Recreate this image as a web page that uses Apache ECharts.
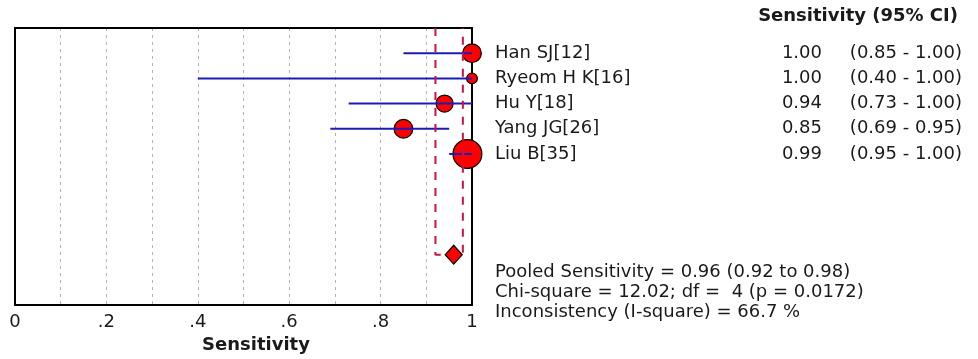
<!DOCTYPE html>
<html>
<head>
<meta charset="utf-8">
<script src="https://cdn.jsdelivr.net/npm/echarts@6/dist/echarts.min.js"></script>
<style>
html,body{margin:0;padding:0;background:#fff;}
#chart{width:978px;height:359px;}
</style>
</head>
<body>
<div id="chart"></div>
<script>
// ---- data ----
const studies = ['Han SJ[12]', 'Ryeom H K[16]', 'Hu Y[18]', 'Yang JG[26]', 'Liu B[35]'];
const sens    = [1.00, 1.00, 0.94, 0.85, 0.99];
const ciLow   = [0.85, 0.40, 0.73, 0.69, 0.95];
const ciHigh  = [1.00, 1.00, 1.00, 0.95, 1.00];
const weights = [18, 6, 15, 18, 43];           // relative study weights (%)
const pooled  = 0.96;
const pooledLow = 0.92;
const pooledHigh = 0.98;
const xTickValues = [0, 0.2, 0.4, 0.6, 0.8, 1];
const xTickLabels = ['0', '.2', '.4', '.6', '.8', '1'];
const headerText = 'Sensitivity (95% CI)';
const axisTitle = 'Sensitivity';
const footLines = [
  'Pooled Sensitivity = 0.96 (0.92 to 0.98)',
  'Chi-square = 12.02; df =  4 (p = 0.0172)',
  'Inconsistency (I-square) = 66.7 %'
];
const pooledRow = 8;

// ---- chart ----
const FONT = 'DejaVu Sans';
const TXT = '#1a1a1a';
const chart = echarts.init(document.getElementById('chart'), null, {renderer: 'canvas'});

const blackLine = {show: true, onZero: false, lineStyle: {color: '#000', width: 2}};

const option = {
  animation: false,
  backgroundColor: '#fff',
  grid: {left: 15, right: 506, top: 28, bottom: 53, containLabel: false},
  xAxis: [
    {
      type: 'value', min: 0, max: 1, interval: 0.1, position: 'bottom', z: 0,
      axisLine: blackLine,
      axisTick: {show: false},
      splitLine: {show: true, lineStyle: {color: '#b4b4b4', width: 1, type: [3, 4]}},
      axisLabel: {
        margin: 8, fontFamily: FONT, fontSize: 18, color: TXT,
        formatter: function (v) {
          const i = xTickValues.findIndex(t => Math.abs(t - v) < 1e-6);
          return i >= 0 ? xTickLabels[i] : '';
        }
      },
      name: axisTitle, nameLocation: 'middle', nameGap: 30,
      nameTextStyle: {fontFamily: FONT, fontSize: 18, fontWeight: 'bold', color: TXT, padding: [0, 0, 0, 25]}
    },
    {
      type: 'value', min: 0, max: 1, position: 'top', z: 3,
      axisLine: blackLine, axisTick: {show: false}, axisLabel: {show: false}, splitLine: {show: false}
    }
  ],
  yAxis: [
    {
      type: 'value', inverse: true, min: -1, max: 10, position: 'left', z: 3,
      axisLine: blackLine, axisTick: {show: false}, axisLabel: {show: false}, splitLine: {show: false}
    },
    {
      type: 'value', inverse: true, min: -1, max: 10, position: 'right', z: 3,
      axisLine: blackLine, axisTick: {show: false}, axisLabel: {show: false}, splitLine: {show: false}
    }
  ],
  series: [
    // study point estimates (size ~ weight)
    {
      type: 'scatter', z: 4, clip: false, symbol: 'circle',
      data: sens.map((v, i) => [v, i, weights[i]]),
      symbolSize: d => 4.4 * Math.sqrt(d[2]),
      itemStyle: {color: '#ff0000', borderColor: '#000', borderWidth: 1.2, opacity: 1}
    },
    // confidence intervals
    {
      type: 'custom', z: 5, clip: false,
      data: studies.map((s, i) => [ciLow[i], ciHigh[i], i]),
      encode: {x: [0, 1], y: 2},
      renderItem: function (params, api) {
        const a = api.coord([api.value(0), api.value(2)]);
        const b = api.coord([api.value(1), api.value(2)]);
        return {type: 'line', shape: {x1: a[0], y1: a[1], x2: b[0], y2: b[1]},
                style: {stroke: '#1c1cb4', lineWidth: 2}};
      }
    },
    // pooled CI bracket
    {
      type: 'line', z: 6, symbol: 'none', clip: false,
      data: [[pooledLow, -1], [pooledLow, pooledRow], [pooledHigh, pooledRow], [pooledHigh, -1]],
      lineStyle: {color: '#cc1440', width: 2, type: [8, 8]}
    },
    // pooled diamond
    {
      type: 'scatter', z: 7, clip: false, symbol: 'diamond', symbolSize: [17, 19],
      data: [[pooled, pooledRow]],
      itemStyle: {color: '#ff0000', borderColor: '#000', borderWidth: 1.2, opacity: 1}
    },
    // study labels and numeric columns
    {
      type: 'scatter', z: 8, clip: false, symbolSize: 0, silent: true,
      itemStyle: {color: '#000', opacity: 1},
      data: studies.map((s, i) => [1, i]),
      label: {
        show: true, position: 'right', distance: 23,
        fontFamily: FONT, fontSize: 18, color: TXT, opacity: 1,
        formatter: function (p) {
          const i = p.dataIndex;
          return '{n|' + studies[i] + '}{v|' + sens[i].toFixed(2) + '}{c|(' +
            ciLow[i].toFixed(2) + ' - ' + ciHigh[i].toFixed(2) + ')}';
        },
        rich: {
          n: {width: 284, align: 'left', fontFamily: FONT, fontSize: 18, color: TXT},
          v: {width: 43, align: 'right', fontFamily: FONT, fontSize: 18, color: TXT},
          c: {width: 140, align: 'right', fontFamily: FONT, fontSize: 18, color: TXT}
        }
      }
    }
  ],
  graphic: [
    {
      type: 'text', right: 20, top: 7, z: 10,
      style: {text: headerText, fontFamily: FONT, fontSize: 18, fontWeight: 'bold', fill: TXT}
    },
    {
      type: 'text', left: 495, top: 262, z: 10,
      style: {text: footLines.join('\n'), fontFamily: FONT, fontSize: 18, lineHeight: 20, fill: TXT}
    }
  ]
};
chart.setOption(option);
</script>
</body>
</html>
